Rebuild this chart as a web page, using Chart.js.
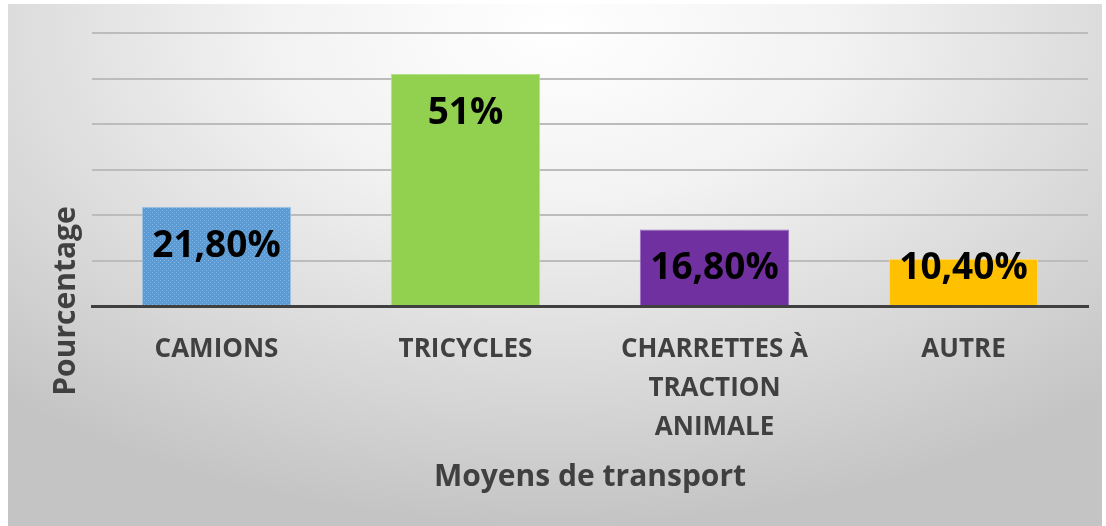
<!DOCTYPE html>
<html>
<head>
<meta charset="utf-8">
<script src="https://cdn.jsdelivr.net/npm/chart.js@4.4.1/dist/chart.umd.min.js"></script>
<style>
  html, body { margin: 0; padding: 0; background: #fff; }
  #wrap { position: relative; width: 1106px; height: 526px; overflow: hidden; }
  #panel {
    position: absolute; left: 8px; top: 4px; width: 1094px; height: 522px;
    background: radial-gradient(ellipse 75% 95% at 50% 5%, #ffffff 0%, #f2f2f2 35%, #d6d6d6 75%, #c4c4c4 100%);
  }
  #myChart { position: absolute; left: 0; top: 0; }
</style>
</head>
<body>
<div id="wrap">
  <div id="panel"></div>
  <canvas id="myChart" width="1106" height="526"></canvas>
</div>
<script>
var categories = ["CAMIONS", "TRICYCLES", ["CHARRETTES À", "TRACTION", "ANIMALE"], "AUTRE"]
var values = [21.8, 51, 16.8, 10.4]
var valueLabels = ["21,80%", "51%", "16,80%", "10,40%"]
var barColors = ["#5b9bd5", "#92d050", "#7030a0", "#ffc000"]
var barBorders = ["#9dc3e6", "#b5e08a", "#9a6cc4", "#ffe08a"]

// dotted texture on the first bar, like the original fill
function dotPattern(base){
    var c = document.createElement("canvas")
    c.width = 4
    c.height = 4
    var g = c.getContext("2d")
    g.fillStyle = base
    g.fillRect(0, 0, 4, 4)
    g.fillStyle = "#86b6e4"
    g.fillRect(0, 0, 1, 1)
    g.fillRect(2, 2, 1, 1)
    return g.createPattern(c, "repeat")
}

var fills = barColors.slice()
fills[0] = dotPattern(barColors[0])

var barLabels = {
    id: "barLabels",
    afterDatasetsDraw(chart){
        var ctx = chart.ctx
        var meta = chart.getDatasetMeta(0)
        ctx.save()
        ctx.font = "bold 37px 'Open Sans'"
        ctx.fillStyle = "#000"
        ctx.textAlign = "center"
        ctx.textBaseline = "middle"
        meta.data.forEach(function(bar, i){
            var y = Math.min(bar.y + 40, bar.base - 37)
            ctx.fillText(valueLabels[i], bar.x, y)
        })
        ctx.restore()
    }
}

var yTitle = {
    id: "yTitle",
    afterDraw(chart){
        var ctx = chart.ctx
        var a = chart.chartArea
        ctx.save()
        ctx.translate(a.left - 26, a.bottom - 5)
        ctx.rotate(-Math.PI / 2)
        ctx.font = "bold 30px 'Open Sans'"
        ctx.fillStyle = "#404040"
        ctx.textAlign = "center"
        ctx.textBaseline = "middle"
        ctx.fillText("Pourcentage", 0, 0)
        ctx.restore()
    }
}

new Chart("myChart", {
    type: "bar",
    data: {
        labels: categories,
        datasets: [{
            data: values,
            backgroundColor: fills,
            borderColor: barBorders,
            borderWidth: 1,
            barPercentage: 0.6,
            categoryPercentage: 1
        }]
    },
    options: {
        responsive: false,
        animation: false,
        layout: { padding: { left: 92, right: 18, top: 33, bottom: 31 } },
        plugins: {
            legend: { display: false },
            tooltip: { enabled: false }
        },
        scales: {
            x: {
                grid: { display: false, drawTicks: false },
                border: { color: "#404040", width: 3 },
                ticks: {
                    color: "#404040",
                    font: { family: "'Open Sans'", size: 26, weight: "bold", lineHeight: "39px" },
                    padding: 24,
                    maxRotation: 0,
                    autoSkip: false
                },
                title: {
                    display: true,
                    text: "Moyens de transport",
                    color: "#404040",
                    font: { family: "'Open Sans'", size: 30, weight: "bold" },
                    padding: { top: -12, bottom: 0 }
                }
            },
            y: {
                min: 0,
                max: 60,
                ticks: { display: false, stepSize: 10 },
                grid: { color: "#bcbcbc", lineWidth: 2, drawTicks: false },
                border: { display: false }
            }
        }
    },
    plugins: [barLabels, yTitle]
})
</script>
</body>
</html>
